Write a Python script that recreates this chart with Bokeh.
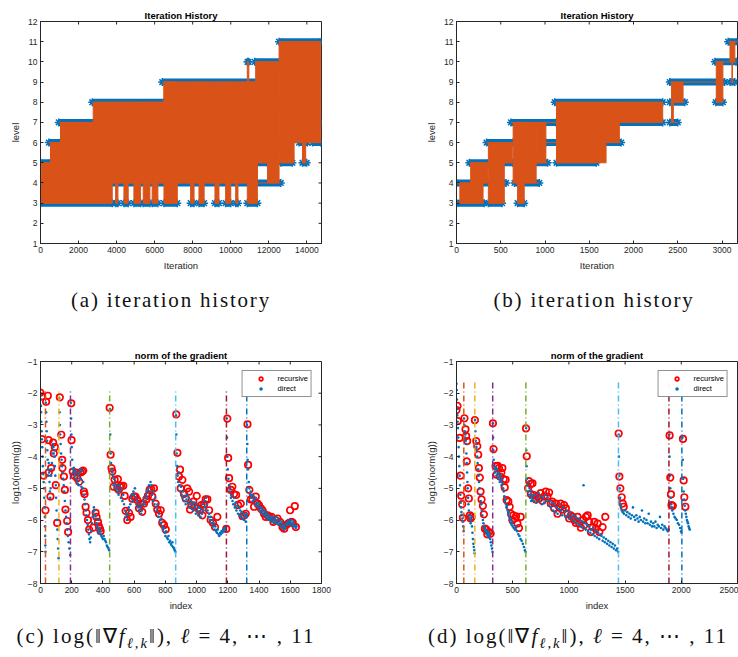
from bokeh.plotting import figure
from bokeh.models import (Range1d, FixedTicker, Div, Legend, LegendItem)
from bokeh.layouts import column, row
from bokeh.embed import file_html
from bokeh.resources import INLINE

BLUE = "#0072BD"; ORANGE = "#D95319"; YELLOW = "#EDB120"; PURPLE = "#7E2F8E"
GREEN = "#77AC30"; LBLUE = "#4DBEEE"; DRED = "#A2142F"; AX = "#262626"
SANS = "Liberation Sans"

# ---------------- (a) iteration history, run 1 ----------------
a_blk_x0 = [0, 35, 525, 1050, 2770, 3770, 3950, 4385, 4910, 5400, 5870, 6490, 6490, 7890, 8330, 9170, 9730, 10260, 10870, 10870, 11310, 11930, 12540, 13330, 13770]
a_blk_x1 = [90, 525, 1050, 2770, 3770, 6490, 4070, 4610, 5260, 5750, 6170, 11400, 7190, 8070, 8600, 9380, 10000, 10380, 11400, 10950, 11930, 12540, 13330, 14730, 13940]
a_blk_lo = [3, 3, 3, 3, 3, 4, 3, 3, 3, 3, 3, 4, 3, 3, 3, 3, 3, 3, 3, 9, 5, 4, 5, 6, 5]
a_blk_hi = [4, 5, 6, 7, 8, 8, 8, 8, 8, 8, 8, 9, 9, 9, 9, 9, 9, 9, 9, 10, 10, 10, 11, 11, 11]
a_band_lvl = [3, 3, 3, 3, 3, 3, 3, 3, 3, 3, 3, 3, 3, 4, 4, 5, 5, 5, 5, 6, 6, 6, 6, 7, 7, 8, 8, 9, 10, 10, 11]
a_band_x0 = [0, 3950, 4385, 4910, 5400, 5870, 6490, 7890, 8330, 9170, 9730, 10260, 10870, 0, 2720, 0, 11310, 12630, 13770, 440, 11930, 13590, 14300, 960, 13330, 2720, 11930, 6400, 10880, 11260, 12540]
a_band_x1 = [3770, 4070, 4610, 5260, 5750, 6170, 7190, 8070, 8600, 9380, 10000, 10380, 11400, 90, 12630, 525, 11930, 13240, 13990, 1050, 13150, 14030, 14730, 2800, 14730, 6490, 12630, 11450, 10940, 12590, 14770]

# ---------------- (b) iteration history, run 2 ----------------
b_blk_x0 = [38, 160, 360, 540, 640, 690, 900, 1130, 1690, 1840, 2430, 2450, 2935, 3090, 3112]
b_blk_x1 = [300, 350, 540, 630, 900, 765, 1010, 1690, 1840, 2330, 2450, 2560, 3010, 3145, 3118]
b_blk_lo = [3, 4, 3, 5, 4, 3, 5, 5, 6, 7, 7, 8, 8, 10, 9]
b_blk_hi = [4, 5, 6, 6, 7, 7, 7, 8, 8, 8, 9, 9, 10, 11, 10]
b_band_lvl = [3, 3, 3, 4, 4, 5, 5, 5, 5, 6, 6, 7, 7, 7, 8, 8, 8, 9, 9, 10, 11]
b_band_x0 = [0, 360, 690, 0, 655, 145, 500, 860, 1130, 340, 1010, 615, 1650, 2410, 1110, 2410, 2930, 2410, 3090, 2920, 3070]
b_band_x1 = [313, 515, 765, 560, 935, 370, 635, 1030, 1580, 635, 1860, 1125, 2330, 2500, 2330, 2580, 3010, 3030, 3145, 3160, 3190]

level_ticks = [1, 2, 3, 4, 5, 6, 7, 8, 9, 10, 11, 12]
a_xticks = [0, 2000, 4000, 6000, 8000, 10000, 12000, 14000]
b_xticks = [0, 500, 1000, 1500, 2000, 2500, 3000]

# ---------------- (c) gradient norm, run 1 ----------------
c_recursive = [(0,-1.98),(10,-2.1),(10,-3.45),(20,-4.6),(32,-5.69),
 (36,-2.27),(47,-2.08),(53,-3.48),(53,-4.5),(68,-4.36),(64,-5.26),(81,-3.56),(85,-3.9),(92,-3.7),(98,-4.9),(107,-6.09),
 (124,-2.13),(133,-3.31),(139,-4.1),(141,-4.36),(150,-4.63),(156,-5.05),(160,-5.67),(171,-6.03),(177,-6.38),
 (197,-2.32),(199,-3.48),(207,-4.47),(218,-4.6),(231,-4.5),(235,-4.68),(248,-4.79),(257,-4.5),(267,-4.47),(274,-4.44),(278,-5.1),(282,-5.18),(289,-5.58),(295,-5.77),(304,-6.0),(312,-6.3),(338,-6.24),(353,-5.77),(359,-5.9),(368,-6.06),(374,-6.2),(381,-6.27),(385,-6.35),
 (443,-2.46),(449,-3.94),(455,-4.36),(460,-4.47),(468,-4.95),(475,-4.73),(492,-5.0),(496,-4.71),(502,-5.05),(509,-4.95),(517,-4.92),(530,-4.92),(539,-5.24),(545,-5.71),(556,-6.0),(567,-5.77),(577,-5.9),(588,-5.33),(599,-5.26),(609,-5.26),(620,-5.37),(631,-5.63),(641,-5.48),(652,-5.74),(663,-5.48),(678,-5.35),(688,-5.24),(699,-5.05),(710,-5.03),(716,-5.26),(727,-5.0),(738,-5.48),(748,-5.67),(759,-5.8),(770,-5.69),(780,-6.09),(791,-6.16),(802,-6.3),
 (870,-2.67),(877,-3.88),(887,-4.63),(894,-4.41),(898,-5.0),(909,-4.73),(919,-5.18),(930,-5.32),(941,-5.0),(952,-5.1),(958,-5.67),(966,-5.53),(979,-5.42),(988,-5.56),(1001,-5.24),(1009,-5.63),(1020,-5.69),(1031,-5.53),(1037,-5.85),(1048,-5.5),(1058,-5.35),(1069,-5.35),(1080,-5.69),(1090,-6.0),(1105,-6.09),(1118,-6.22),(1133,-5.9),(1190,-6.28),
 (1197,-2.8),(1202,-4.04),(1208,-4.68),(1219,-5.05),(1229,-4.95),(1240,-5.18),(1253,-5.21),(1266,-5.53),(1283,-5.48),(1294,-5.88),(1304,-5.85),(1315,-5.8),
 (1326,-2.98),(1330,-4.26),(1338,-5.05),(1347,-5.35),(1358,-5.35),(1368,-5.58),(1379,-5.26),(1390,-5.48),(1400,-5.53),(1411,-5.63),(1422,-5.69),(1432,-5.8),(1443,-5.9),(1454,-5.85),(1465,-5.9),(1479,-5.9),(1492,-6.06),(1507,-6.0),(1518,-5.95),(1535,-6.06),(1550,-6.22),(1561,-6.27),(1571,-6.16),(1586,-6.11),(1599,-5.69),(1608,-6.06),(1616,-6.09),(1629,-5.56),(1636,-6.22)]
c_direct = [(1,-2.05),(2,-2.2),(3,-2.4),(4,-2.6),(5,-2.9),(7,-3.2),(9,-3.45),(11,-3.7),(13,-4.0),(15,-4.3),(17,-4.55),(20,-4.8),(22,-5.0),(24,-5.3),(26,-5.6),(28,-5.9),(29,-6.2),(30,-6.5),(31,-6.8),(32,-7.0),
 (34,-2.3),(36,-2.6),(38,-2.9),(40,-3.2),(42,-3.5),(44,-3.8),(46,-4.1),(48,-4.4),(50,-4.6),(53,-4.2),(55,-4.5),(58,-4.8),(60,-5.1),(62,-5.3),(65,-5.0),(68,-4.6),(70,-4.4),(73,-4.2),(76,-3.9),(79,-3.6),(82,-3.7),(85,-3.9),(88,-3.8),(90,-4.0),(92,-4.3),(95,-4.6),(98,-4.9),(100,-5.3),(103,-5.7),(105,-6.0),(108,-6.3),(110,-6.6),(113,-6.9),(116,-7.2),
 (120,-2.15),(122,-2.6),(124,-3.0),(126,-3.3),(129,-3.6),(132,-3.9),(135,-4.1),(138,-4.3),(141,-4.5),(145,-4.7),(149,-4.9),(152,-5.1),(156,-5.4),(160,-5.7),(164,-5.9),(168,-6.1),(172,-6.3),(176,-6.5),(180,-6.7),(185,-6.9),(190,-7.1),
 (194,-2.3),(196,-2.8),(198,-3.3),(200,-3.7),(203,-4.1),(206,-4.4),(210,-4.5),(214,-4.35),(218,-4.6),(222,-4.45),(226,-4.7),(230,-4.5),(234,-4.75),(238,-4.85),(242,-4.6),(246,-4.9),(250,-4.5),(254,-4.4),(258,-4.7),(262,-4.95),(266,-4.45),(270,-5.0),(274,-4.8),(278,-5.2),(282,-5.35),(286,-5.5),(290,-5.7),(294,-5.85),(298,-6.0),(302,-6.15),(306,-6.3),(310,-6.45),(314,-6.6),(318,-6.7),(322,-6.55),(326,-6.35),(330,-6.1),(334,-5.9),(338,-5.75),(342,-5.6),(346,-5.7),(350,-5.85),(354,-5.95),(358,-6.1),(362,-6.2),(366,-6.3),(370,-6.4),(374,-6.0),(378,-6.25),(382,-6.35),(386,-6.45),(390,-6.5),(395,-6.55),(400,-6.6),(405,-6.5),(410,-6.6),(415,-6.65),(420,-6.7),(425,-6.8),(430,-6.85),(435,-6.9),(440,-6.95),
 (445,-2.5),(447,-3.3),(449,-3.9),(452,-4.2),(456,-4.4),(460,-4.5),(464,-4.6),(468,-4.9),(472,-4.7),(476,-4.8),(480,-5.0),(485,-4.9),(490,-5.1),(495,-5.0),(500,-5.2),(505,-4.9),(510,-5.1),(515,-5.3),(520,-5.0),(525,-5.4),(530,-5.2),(535,-5.5),(540,-5.7),(545,-5.9),(550,-5.8),(555,-6.0),(560,-5.85),(565,-5.6),(570,-5.7),(575,-5.5),(580,-5.3),(585,-5.2),(590,-5.4),(595,-5.1),(600,-5.2),(605,-5.0),(610,-5.3),(615,-5.5),(620,-5.4),(625,-5.6),(630,-5.7),(635,-5.5),(640,-5.6),(645,-5.8),(650,-5.7),(655,-5.5),(660,-5.4),(665,-5.3),(670,-5.5),(675,-5.2),(680,-5.1),(685,-5.3),(690,-5.0),(695,-4.9),(700,-5.1),(705,-4.8),(710,-4.9),(715,-5.2),(720,-5.4),(725,-5.1),(730,-5.5),(735,-5.3),(740,-5.6),(745,-5.7),(750,-5.5),(755,-5.9),(760,-5.8),(765,-6.0),(770,-6.1),(775,-5.95),(780,-6.2),(785,-6.3),(790,-6.25),(795,-6.4),(800,-6.5),(805,-6.35),(810,-6.55),(815,-6.6),(820,-6.5),(825,-6.7),(830,-6.65),(835,-6.75),(840,-6.8),(845,-6.7),(850,-6.85),(855,-6.9),(860,-6.95),(864,-7.0),
 (868,-2.7),(870,-3.3),(872,-3.9),(875,-4.3),(878,-4.6),(882,-4.8),(886,-4.5),(890,-4.9),(895,-5.1),(900,-4.95),(905,-5.2),(910,-5.3),(915,-5.1),(920,-5.4),(925,-5.25),(930,-5.5),(935,-5.35),(940,-5.2),(945,-5.45),(950,-5.3),(955,-5.6),(960,-5.5),(965,-5.4),(970,-5.65),(975,-5.5),(980,-5.7),(985,-5.45),(990,-5.6),(995,-5.8),(1000,-5.5),(1005,-5.7),(1010,-5.85),(1015,-5.6),(1020,-5.75),(1025,-5.9),(1030,-5.65),(1035,-5.8),(1040,-5.5),(1045,-5.7),(1050,-5.4),(1055,-5.6),(1060,-5.3),(1065,-5.5),(1070,-5.7),(1075,-5.9),(1080,-5.8),(1085,-6.0),(1090,-5.9),(1095,-6.1),(1100,-6.0),(1105,-6.2),(1110,-6.1),(1115,-6.3),(1120,-6.2),(1125,-6.35),(1130,-6.4),(1135,-6.3),(1140,-6.45),(1145,-6.5),(1150,-6.4),(1155,-6.45),(1160,-6.35),(1165,-6.4),(1170,-6.3),(1175,-6.35),(1180,-6.25),(1185,-6.3),(1189,-6.2),
 (1193,-2.8),(1195,-3.4),(1197,-4.0),(1200,-4.4),(1204,-4.7),(1208,-4.9),(1212,-5.1),(1216,-5.0),(1220,-5.3),(1225,-5.2),(1230,-5.4),(1235,-5.5),(1240,-5.3),(1245,-5.6),(1250,-5.45),(1255,-5.7),(1260,-5.55),(1265,-5.8),(1270,-5.6),(1275,-5.85),(1280,-5.7),(1285,-5.9),(1290,-5.75),(1295,-5.95),(1300,-5.8),(1305,-6.0),(1310,-5.85),(1315,-6.05),(1319,-5.9),
 (1323,-3.0),(1325,-3.6),(1327,-4.1),(1330,-4.4),(1334,-4.8),(1338,-5.0),(1342,-5.2),(1346,-5.1),(1350,-5.3),(1355,-5.2),(1360,-5.4),(1365,-5.25),(1370,-5.35),(1375,-5.5),(1380,-5.3),(1385,-5.55),(1390,-5.45),(1395,-5.6),(1400,-5.5),(1405,-5.7),(1410,-5.6),(1415,-5.75),(1420,-5.65),(1425,-5.8),(1430,-5.7),(1435,-5.85),(1440,-5.75),(1445,-5.9),(1450,-5.8),(1455,-5.95),(1460,-5.85),(1465,-6.0),(1470,-5.9),(1475,-5.95),(1480,-6.05),(1485,-5.9),(1490,-6.0),(1495,-6.1),(1500,-5.95),(1505,-6.05),(1510,-5.9),(1515,-6.1),(1520,-6.0),(1525,-6.15),(1530,-6.0),(1535,-6.1),(1540,-6.2),(1545,-6.05),(1550,-6.25),(1555,-6.15),(1560,-6.3),(1565,-6.2),(1570,-6.25),(1575,-6.1),(1580,-6.15),(1585,-6.0),(1590,-6.1),(1595,-6.05),(1600,-6.15),(1605,-6.0),(1610,-6.1),(1615,-6.2),(1620,-6.05),(1625,-6.15),(1630,-6.2),(1635,-6.25),(1640,-6.2)]
c_vline_x = [32, 118, 192, 443, 866, 1191, 1321]
c_vline_top = -1.9
c_xticks = [0, 200, 400, 600, 800, 1000, 1200, 1400, 1600, 1800]

# ---------------- (d) gradient norm, run 2 ----------------
d_recursive = [(0,-2.53),(9,-2.4),(12,-2.88),(27,-3.41),(36,-4.6),(42,-5.23),(51,-5.5),(57,-5.93),
 (71,-2.79),(80,-3.14),(86,-3.35),(95,-3.51),(92,-4.15),(104,-5.0),(110,-5.32),(119,-5.85),(125,-5.95),(134,-5.9),
 (164,-2.85),(176,-3.51),(185,-3.67),(193,-3.94),(199,-4.36),(208,-4.66),(214,-5.1),(223,-5.35),(235,-5.55),(244,-5.82),(253,-6.27),(265,-6.3),(274,-6.45),(289,-6.38),(304,-6.43),
 (324,-2.95),(330,-3.76),(348,-4.3),(357,-4.57),(366,-4.29),(378,-4.36),(387,-4.63),(399,-4.5),(408,-4.36),(420,-4.71),(429,-4.97),(437,-4.73),(446,-5.37),(461,-5.42),(473,-5.58),(485,-5.8),(497,-6.0),(506,-5.85),(518,-5.95),(530,-5.88),(542,-6.11),(556,-6.25),(571,-5.9),
 (619,-3.11),(625,-3.99),(637,-5.0),(646,-4.77),(661,-4.86),(676,-4.84),(661,-5.18),(690,-5.21),(705,-5.35),(720,-5.26),(735,-5.32),(750,-5.15),(765,-5.39),(780,-5.26),(795,-5.1),(809,-5.26),(824,-5.13),(839,-5.48),(854,-5.42),(869,-5.63),(884,-5.48),(899,-5.8),(914,-5.58),(928,-5.48),(943,-5.67),(958,-5.53),(973,-5.63),(988,-5.8),(1003,-5.95),(1018,-5.85),(1033,-5.9),(1048,-6.0),(1062,-6.09),(1077,-5.9),(1092,-6.11),(1107,-6.24),(1122,-6.0),(1137,-6.16),(1152,-5.9),(1167,-5.85),(1181,-6.06),(1196,-6.38),(1211,-6.22),(1226,-6.06),(1241,-6.27),(1256,-6.11),(1271,-6.38),(1300,-6.22),(1324,-5.9),
 (1443,-3.27),(1449,-4.63),(1458,-5.0),(1470,-5.28),(1479,-5.48),(1488,-5.58),
 (1896,-3.33),(1902,-4.66),(1908,-5.19),(1913,-5.53),(1925,-5.55),
 (2015,-3.44),(2021,-4.75),(2027,-5.28),(2036,-5.58)]
d_direct = [(0,-1.7),(2,-1.9),(4,-2.2),(6,-2.5),(8,-2.7),(10,-2.9),(13,-3.1),(16,-3.4),(19,-3.7),(22,-4.0),(25,-4.3),(28,-4.6),(31,-4.9),(34,-5.2),(37,-5.45),(40,-5.6),(44,-5.75),(48,-5.85),(52,-5.95),(56,-6.05),(60,-6.2),(63,-6.35),
 (67,-2.8),(70,-3.0),(73,-3.2),(76,-3.4),(79,-3.3),(82,-3.5),(85,-3.6),(88,-3.9),(91,-4.2),(94,-4.5),(97,-4.8),(100,-5.0),(103,-5.3),(106,-5.5),(110,-5.7),(114,-5.85),(118,-5.95),(122,-6.0),(126,-6.1),(130,-6.0),(134,-5.9),(138,-6.2),(142,-6.4),(146,-6.6),(150,-6.75),(154,-6.85),(158,-6.95),(161,-7.05),
 (165,-2.85),(168,-3.2),(171,-3.5),(174,-3.6),(177,-3.7),(180,-3.8),(184,-4.0),(188,-4.2),(192,-4.4),(196,-4.6),(200,-4.8),(205,-5.0),(210,-5.2),(215,-5.4),(220,-5.5),(225,-5.7),(230,-5.85),(235,-6.0),(240,-6.1),(245,-6.2),(250,-6.3),(255,-6.25),(260,-6.35),(265,-6.4),(270,-6.45),(275,-6.35),(280,-6.5),(285,-6.4),(290,-6.55),(295,-6.45),(300,-6.6),(305,-6.7),(310,-6.8),(315,-6.9),(320,-7.0),
 (324,-2.95),(326,-3.4),(328,-3.8),(331,-4.1),(335,-4.3),(340,-4.4),(345,-4.5),(350,-4.35),(355,-4.6),(360,-4.4),(365,-4.55),(370,-4.7),(375,-4.5),(380,-4.65),(385,-4.8),(390,-4.6),(395,-4.75),(400,-4.9),(405,-4.7),(410,-4.85),(415,-5.0),(420,-5.1),(425,-5.25),(430,-5.4),(435,-5.35),(440,-5.5),(445,-5.6),(450,-5.55),(455,-5.7),(460,-5.8),(465,-5.75),(470,-5.9),(475,-6.0),(480,-5.95),(485,-6.1),(490,-6.15),(495,-6.05),(500,-6.2),(510,-6.25),(520,-6.3),(530,-6.2),(540,-6.35),(550,-6.45),(560,-6.5),(570,-6.6),(580,-6.65),(590,-6.75),(600,-6.85),(608,-6.95),(614,-7.0),
 (619,-3.1),(621,-3.8),(623,-4.3),(626,-4.7),(630,-4.9),(635,-5.1),(640,-4.8),(645,-5.2),(650,-5.0),(655,-5.3),(660,-5.1),(665,-5.4),(670,-5.2),(675,-5.35),(680,-5.25),(690,-5.4),(700,-5.2),(710,-5.45),(720,-5.3),(730,-5.15),(740,-5.4),(750,-5.25),(760,-5.5),(770,-5.3),(780,-5.45),(790,-5.2),(800,-5.4),(810,-5.3),(820,-5.55),(830,-5.4),(840,-5.6),(850,-5.45),(860,-5.7),(870,-5.5),(880,-5.75),(890,-5.6),(900,-5.8),(910,-5.65),(920,-5.5),(930,-5.7),(940,-5.85),(950,-5.6),(960,-5.75),(970,-5.9),(980,-5.7),(990,-5.85),(1000,-5.95),(1010,-5.75),(1020,-5.9),(1030,-6.0),(1040,-5.85),(1050,-6.05),(1060,-5.9),(1070,-6.1),(1080,-5.95),(1090,-6.15),(1100,-6.0),(1110,-6.2),(1120,-6.05),(1130,-4.9),(1135,-6.25),(1140,-6.1),(1150,-6.3),(1160,-6.15),(1170,-6.35),(1180,-6.2),(1190,-6.4),(1200,-6.3),(1210,-6.45),(1220,-6.25),(1230,-6.5),(1240,-6.35),(1250,-6.55),(1260,-6.4),(1270,-6.6),(1280,-6.45),(1290,-6.5),(1300,-6.65),(1310,-6.55),(1320,-6.7),(1330,-6.6),(1340,-6.75),(1350,-6.65),(1360,-6.8),(1370,-6.7),(1380,-6.85),(1390,-6.75),(1400,-6.9),(1410,-6.8),(1420,-6.95),(1430,-6.9),(1438,-7.0),
 (1443,-3.3),(1445,-4.0),(1448,-4.6),(1452,-5.0),(1456,-5.3),(1460,-5.5),(1465,-5.6),(1470,-5.7),(1480,-5.75),(1490,-5.8),(1500,-5.7),(1510,-5.85),(1520,-5.75),(1530,-5.9),(1540,-5.8),(1550,-5.95),(1560,-5.85),(1570,-5.6),(1580,-5.9),(1590,-6.0),(1600,-5.85),(1610,-5.95),(1620,-6.05),(1630,-5.9),(1640,-6.0),(1650,-5.7),(1660,-6.05),(1670,-5.95),(1680,-6.1),(1690,-6.0),(1700,-6.1),(1710,-5.8),(1720,-6.15),(1730,-6.05),(1740,-6.2),(1750,-6.1),(1760,-6.2),(1770,-6.05),(1780,-6.25),(1790,-6.15),(1800,-6.2),(1810,-5.9),(1820,-6.25),(1830,-6.15),(1840,-6.3),(1850,-6.2),(1860,-6.25),(1870,-6.3),(1880,-6.35),(1887,-6.3),
 (1893,-3.3),(1895,-4.0),(1898,-4.6),(1902,-5.0),(1906,-5.3),(1910,-5.5),(1915,-5.6),(1920,-5.7),(1930,-5.8),(1940,-5.9),(1950,-5.95),(1960,-6.0),(1970,-6.1),(1980,-6.15),(1990,-6.25),(1998,-6.35),(2003,-6.4),
 (2010,-3.4),(2013,-4.1),(2017,-4.7),(2021,-5.1),(2025,-5.35),(2030,-5.55),(2035,-5.7),(2040,-5.8),(2045,-5.9),(2050,-6.0),(2055,-6.05),(2060,-6.1),(2065,-6.2),(2070,-6.25),(2075,-6.3)]
d_vline_x = [65, 163, 322, 617, 1441, 1890, 2005]
d_vline_top = -1.6
d_xticks = [0, 500, 1000, 1500, 2000, 2500]
grad_yticks = [-8, -7, -6, -5, -4, -3, -2, -1]
vline_colors = [ORANGE, YELLOW, PURPLE, GREEN, LBLUE, DRED, BLUE]

FRAME_W = 281
FRAME_H = 222
TICK_PX = 3


def style_axis(ax, ticks, label):
    ax.ticker = FixedTicker(ticks=ticks)
    ax.axis_label = label
    ax.axis_label_text_font = SANS
    ax.axis_label_text_font_size = "9.5px"
    ax.axis_label_text_font_style = "normal"
    ax.axis_label_text_color = AX
    ax.major_label_text_font = SANS
    ax.major_label_text_font_size = "8.5px"
    ax.major_label_text_color = AX
    ax.axis_line_color = AX
    ax.major_tick_line_color = AX
    ax.major_tick_in = TICK_PX
    ax.major_tick_out = 0
    ax.minor_tick_line_color = None
    ax.major_label_standoff = 3
    ax.axis_label_standoff = 4


def make_fig(w, h, xr, yr, bl, br, bt, bb, title, xt, yt, xl, yl, right_ticks=True):
    p = figure(width=w, height=h, x_range=Range1d(*xr), y_range=Range1d(*yr),
               output_backend="svg", toolbar_location=None, title=title,
               min_border_left=bl, min_border_right=br, min_border_top=bt, min_border_bottom=bb)
    p.title.text_font = SANS
    p.title.text_font_size = "9.5px"
    p.title.text_font_style = "bold"
    p.title.text_color = "#000000"
    p.title.align = "center"
    p.title.standoff = 1
    p.xgrid.visible = False
    p.ygrid.visible = False
    p.outline_line_color = AX
    p.outline_line_width = 1
    style_axis(p.xaxis[0], xt, xl)
    style_axis(p.yaxis[0], yt, yl)
    # inward ticks on the top (and right) frame edges, as in MATLAB's box-on axes
    dy = (yr[1] - yr[0]) * TICK_PX / FRAME_H
    p.segment(x0=xt, y0=[yr[1]] * len(xt), x1=xt, y1=[yr[1] - dy] * len(xt), line_color=AX, line_width=1)
    if right_ticks:
        dx = (xr[1] - xr[0]) * TICK_PX / FRAME_W
        p.segment(x0=[xr[1]] * len(yt), y0=yt, x1=[xr[1] - dx] * len(yt), y1=yt, line_color=AX, line_width=1)
    return p


def draw_history(p, bx0, bx1, blo, bhi, lv, lx0, lx1):
    p.segment(x0=lx0, y0=lv, x1=lx1, y1=lv, line_color=BLUE, line_width=7)
    p.scatter(x=lx0 + lx1, y=lv + lv, marker="asterisk", size=8, line_color=BLUE, line_width=1.5)
    p.quad(left=bx0, right=bx1, bottom=blo, top=bhi, fill_color=ORANGE, line_color=ORANGE, line_width=1)
    p.segment(x0=lx0, y0=lv, x1=lx1, y1=lv, line_color=ORANGE, line_width=1)


def draw_grad(p, rec, dire, vx, vtop):
    r1 = p.scatter(x=[q[0] for q in rec], y=[q[1] for q in rec], marker="circle", size=6.5,
                   fill_color=None, line_color="#FF0000", line_width=1.7)
    r2 = p.scatter(x=[q[0] for q in dire], y=[q[1] for q in dire], marker="circle", size=2.6,
                   fill_color=BLUE, line_color=None)
    for xv, col in zip(vx, vline_colors):
        p.line(x=[xv, xv], y=[p.y_range.start, vtop], line_color=col, line_width=1.5, line_dash="6 3 1 3")
    leg = Legend(items=[LegendItem(label="recursive", renderers=[r1]),
                        LegendItem(label="direct", renderers=[r2])],
                 location="top_right", margin=9, padding=3, spacing=1,
                 label_text_font=SANS, label_text_font_size="7.5px", label_text_color="#000000",
                 glyph_width=30, glyph_height=9, label_height=9, label_standoff=2,
                 border_line_color=AX, border_line_width=1, background_fill_color="white")
    p.add_layout(leg)


p1 = make_fig(369, 278, (0, 14770), (1, 12), 40, 48, 21, 35, "Iteration History",
              a_xticks, level_ticks, "Iteration", "level")
draw_history(p1, a_blk_x0, a_blk_x1, a_blk_lo, a_blk_hi, a_band_lvl, a_band_x0, a_band_x1)

p2 = make_fig(369, 278, (0, 3175), (1, 12), 87, 1, 21, 35, "Iteration History",
              b_xticks, level_ticks, "Iteration", "level", right_ticks=False)
draw_history(p2, b_blk_x0, b_blk_x1, b_blk_lo, b_blk_hi, b_band_lvl, b_band_x0, b_band_x1)

p3 = make_fig(369, 273, (0, 1800), (-8, -1), 40, 48, 21, 30, "norm of the gradient",
              c_xticks, grad_yticks, "index", "log10(norm(g))")
draw_grad(p3, c_recursive, c_direct, c_vline_x, c_vline_top)

p4 = make_fig(369, 273, (0, 2500), (-8, -1), 87, 1, 21, 30, "norm of the gradient",
              d_xticks, grad_yticks, "index", "log10(norm(g))", right_ticks=False)
draw_grad(p4, d_recursive, d_direct, d_vline_x, d_vline_top)


def caption(html, w, h, ml, mt, inner_w, ls):
    style = ("width:%dpx;margin-left:%dpx;margin-top:%dpx;text-align:center;white-space:nowrap;"
             "font-family:'Liberation Serif';font-size:21px;letter-spacing:%.1fpx;line-height:22px;color:#111;") % (inner_w, ml, mt, ls)
    return Div(text='<div style="%s">%s</div>' % (style, html), width=w, height=h, margin=0)

cap_a = caption("(a) iteration history", 369, 62, 21, 11, 300, 1.8)
cap_b = caption("(b) iteration history", 369, 62, 75, 11, 300, 1.8)
cap_c = caption("(c) log(&#8214;&#8711;<i>f</i><sub style='font-size:70%'><i>&#8467;,k</i></sub>&#8214;), <i>&#8467;</i> = 4, &#8943; , 11", 369, 44, 6, 12, 320, 2.0)
cap_d = caption("(d) log(&#8214;&#8711;<i>f</i><sub style='font-size:70%'><i>&#8467;,k</i></sub>&#8214;), <i>&#8467;</i> = 4, &#8943; , 11", 369, 44, 49, 12, 320, 2.0)

layout = column(row(p1, p2), row(cap_a, cap_b), row(p3, p4), row(cap_c, cap_d))
open("out.html", "w").write(file_html(layout, INLINE))
